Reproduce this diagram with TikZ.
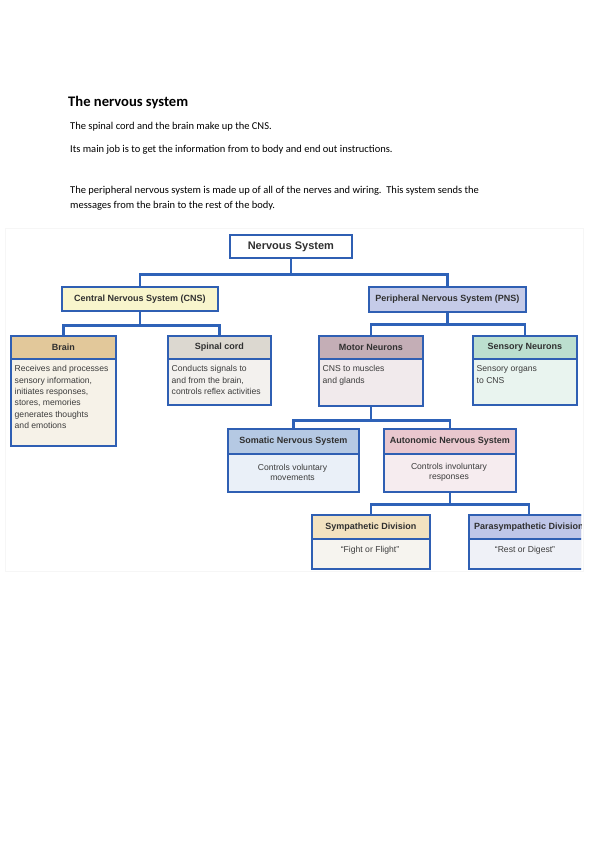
\documentclass[tikz,border=0pt]{standalone}
\usepackage{fontspec}
\setmainfont{Carlito}
\newfontfamily\chartfont{Liberation Sans}
\usetikzlibrary{shadows,calc}
\definecolor{boxblue}{HTML}{2F5FB3}
\definecolor{connblue}{HTML}{2E62B8}
\definecolor{headtext}{HTML}{303030}
\definecolor{bodytextcol}{HTML}{3C3C3C}
\definecolor{cnsfill}{HTML}{F8F5CC}
\definecolor{pnsfill}{HTML}{C5CBE8}
\definecolor{brainhead}{HTML}{E2C89A}
\definecolor{brainbody}{HTML}{F6F2E8}
\definecolor{spinalhead}{HTML}{DCD8D0}
\definecolor{spinalbody}{HTML}{F3F1EE}
\definecolor{motorhead}{HTML}{C4AEB6}
\definecolor{motorbody}{HTML}{F1EAEC}
\definecolor{sensoryhead}{HTML}{BCDFCF}
\definecolor{sensorybody}{HTML}{E9F4EF}
\definecolor{somatichead}{HTML}{B5C9E3}
\definecolor{somaticbody}{HTML}{EAF0F8}
\definecolor{autohead}{HTML}{E9C7CE}
\definecolor{autobody}{HTML}{F6ECEF}
\definecolor{symphead}{HTML}{F2E2C0}
\definecolor{sympbody}{HTML}{F6F4EF}
\definecolor{parahead}{HTML}{BFC6E8}
\definecolor{parabody}{HTML}{EFF1F7}
\tikzset{
  boxbody/.style={draw=boxblue, line width=1.7pt, inner sep=0pt, anchor=north west,
    drop shadow={shadow xshift=1.5pt, shadow yshift=-1.5pt, opacity=0.3}},
  boxhead/.style={draw=boxblue, line width=1.7pt, inner sep=0pt, anchor=north west,
    font=\chartfont\fontsize{9}{10}\selectfont\bfseries, text=headtext},
  conn/.style={draw=connblue, line width=2.5pt},
  bodytext/.style={font=\chartfont\fontsize{8.6}{11.3}\selectfont, text=bodytextcol,
    inner sep=0pt, align=left, anchor=north west},
  ctrtext/.style={font=\chartfont\fontsize{8.6}{10.5}\selectfont, text=bodytextcol,
    inner sep=0pt, align=center},
  doctext/.style={font=\fontsize{10.5}{14.6}\selectfont, inner sep=0pt, anchor=west, align=left},
}
\newcommand{\chbox}[9]{%
  \node[boxbody, fill=#8, minimum width=#4pt, minimum height=#5pt] (#1) at (#2,#3) {};
  \node[boxhead, fill=#7, minimum width=#4pt, minimum height=#6pt] (#1-h) at (#2,#3) {#9};
}
\begin{document}
\begin{tikzpicture}[x=1pt, y=-1pt]
\useasboundingbox[fill=white] (0,0) rectangle (595,842);

% document text
\node[font=\fontsize{14.6}{16}\selectfont\bfseries, inner sep=0pt, anchor=west] (title) at (68,103) {The nervous system};
\node[doctext] (l1) at (70,126.7) {The spinal cord and the brain make up the CNS.};
\node[doctext] (l2) at (70,149.3) {Its main job is to get the information from to body and end out instructions.};
\node[doctext, anchor=north west] (l3) at (70,186) {The peripheral nervous system is made up of all of the nerves and wiring.\ \ This system sends the\\messages from the brain to the rest of the body.};

% chart background
\draw[gray!7, fill=white] (5,228) rectangle (583,571);

% top level
\node[boxbody, fill=white, minimum width=122pt, minimum height=23pt,
  font=\chartfont\fontsize{11}{12}\selectfont\bfseries, text=headtext] (ns) at (229,234) {Nervous System};
\node[boxbody, fill=cnsfill, minimum width=156pt, minimum height=24pt,
  font=\chartfont\fontsize{9}{10}\selectfont\bfseries, text=headtext] (cns) at (61,286) {Central Nervous System (CNS)};
\node[boxbody, fill=pnsfill, minimum width=157pt, minimum height=25pt,
  font=\chartfont\fontsize{9}{10}\selectfont\bfseries, text=headtext] (pns) at (368,286) {Peripheral Nervous System (PNS)};

% second level
\chbox{brain}{10}{335}{105}{110}{23}{brainhead}{brainbody}{Brain}
\chbox{spinal}{167}{335}{103}{69}{23}{spinalhead}{spinalbody}{Spinal cord}
\chbox{motor}{318}{335}{104}{70}{23}{motorhead}{motorbody}{Motor Neurons}
\chbox{sensory}{472}{335}{104}{69}{23}{sensoryhead}{sensorybody}{Sensory Neurons}

% third level
\chbox{somatic}{227}{428}{131}{63}{25}{somatichead}{somaticbody}{Somatic Nervous System}
\chbox{auto}{383}{428}{132}{63}{25}{autohead}{autobody}{Autonomic Nervous System}

% fourth level
\chbox{symp}{311}{514}{118}{54}{24}{symphead}{sympbody}{Sympathetic Division}
\begin{scope}
  \clip (0,0) rectangle (581,842);
  \chbox{para}{468}{514}{120}{54}{24}{parahead}{parabody}{Parasympathetic Division}
\end{scope}

% body texts
\node[bodytext] (brain-t) at (14.5,365.5) {Receives and processes\\sensory information,\\initiates responses,\\stores, memories\\generates thoughts\\and emotions};
\node[bodytext] (spinal-t) at (171.5,365.5) {Conducts signals to\\and from the brain,\\controls reflex activities};
\node[bodytext] (motor-t) at (322.5,365.5) {CNS to muscles\\and glands};
\node[bodytext] (sensory-t) at (476.5,365.5) {Sensory organs\\to CNS};
\node[ctrtext] (somatic-t) at (292.5,472.5) {Controls voluntary\\movements};
\node[ctrtext] (auto-t) at (449,472.5) {Controls involuntary\\responses};
\node[ctrtext] (symp-t) at (370,550) {“Fight or Flight”};
\node[ctrtext] (para-t) at (525,550) {“Rest or Digest”};

% connectors
\draw[conn] (ns.south) -- ++(0,16) -| (cns.north);
\draw[conn] (ns.south) -- ++(0,16) -| (pns.north);
\draw[conn] (cns.south) -- ++(0,14) -| (brain-h.north);
\draw[conn] (cns.south) -- ++(0,14) -| (spinal-h.north);
\draw[conn] (pns.south) -- ++(0,12) -| (motor-h.north);
\draw[conn] (pns.south) -- ++(0,12) -| (sensory-h.north);
\draw[conn] (motor.south) -- ++(0,14) -| (somatic-h.north);
\draw[conn] (motor.south) -- ++(0,14) -| (auto-h.north);
\draw[conn] (auto.south) -- ++(0,12) -| (symp-h.north);
\draw[conn] (auto.south) -- ++(0,12) -| (para-h.north);
\end{tikzpicture}
\end{document}
